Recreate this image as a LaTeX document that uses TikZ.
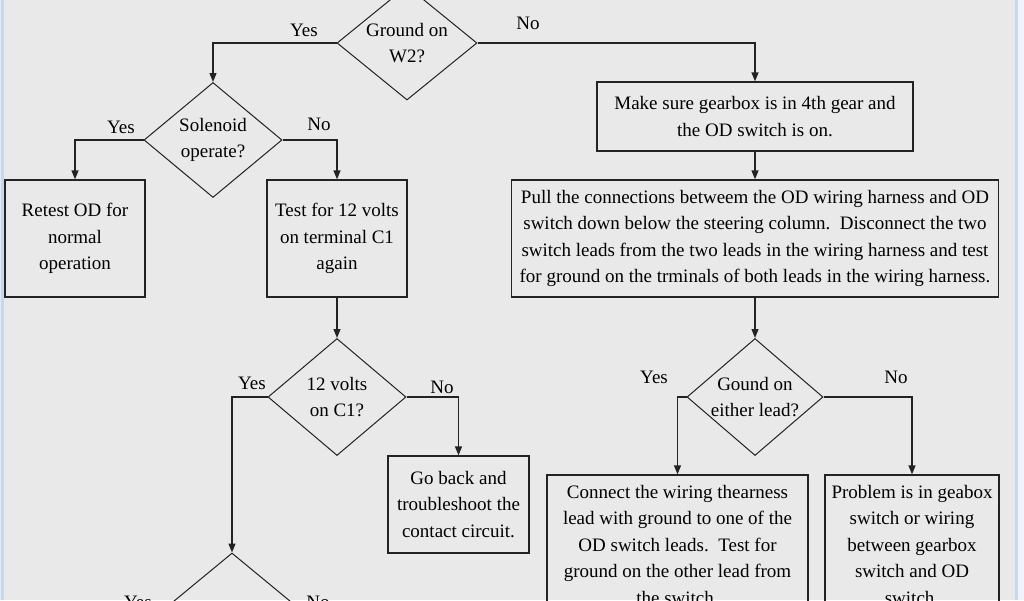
\documentclass[tikz,border=0pt]{standalone}
\usepackage{fontspec}
\setmainfont{Liberation Serif}
\usetikzlibrary{shapes.geometric,arrows.meta}
\definecolor{bg}{RGB}{233,233,233}
\definecolor{ln}{RGB}{35,35,35}
\definecolor{edgeblue}{RGB}{196,216,238}
\definecolor{edgelight}{RGB}{240,244,248}
\begin{document}
\begin{tikzpicture}[x=1pt,y=-1pt,
  txt/.style={font=\fontsize{19}{26.5}\selectfont, align=center, inner sep=0pt, text=black},
  dia/.style={draw=ln, line width=1pt, diamond, inner sep=0pt},
  box/.style={draw=ln, line width=1.3pt, rectangle, inner sep=0pt},
  arr/.style={draw=ln, line width=1.3pt, -{Triangle[length=9pt,width=7pt]}},
  lbl/.style={font=\fontsize{19}{23}\selectfont, inner sep=0pt, text=black}]
\useasboundingbox (0,0) rectangle (1024,600);
\clip (0,0) rectangle (1024,600);
\fill[bg] (0,0) rectangle (1024,600);
\fill[edgeblue] (1,0) rectangle (4,600);
\fill[edgeblue] (1015,0) rectangle (1018,600);
\fill[edgelight] (1018,0) rectangle (1024,600);

% decisions
\node[dia, minimum width=140pt, minimum height=114pt] (d0) at (407,43) {};
\node[txt] at (d0) {Ground on\\W2?};
\node[dia, minimum width=138pt, minimum height=115pt] (d1) at (213,140) {};
\node[txt] at (d1) {Solenoid\\operate?};
\node[dia, minimum width=138pt, minimum height=117pt] (d2) at (337,397) {};
\node[txt] at (d2) {12 volts\\on C1?};
\node[dia, minimum width=136pt, minimum height=117pt] (d3) at (755,397) {};
\node[txt] at (d3) {Gound on\\either lead?};
\node[dia, minimum width=138pt, minimum height=114pt] (d4) at (232,610) {};

% boxes
\node[box, minimum width=140pt, minimum height=117pt] (retest) at (75,238.5) {};
\node[txt] at (retest) {Retest OD for\\normal\\operation};
\node[box, minimum width=140pt, minimum height=117pt] (test) at (337,238.5) {};
\node[txt] at (test) {Test for 12 volts\\on terminal C1\\again};
\node[box, minimum width=316pt, minimum height=69pt] (make) at (755,116.5) {};
\node[txt] at (make) {Make sure gearbox is in 4th gear and\\the OD switch is on.};
\node[box, minimum width=487pt, minimum height=117pt] (pull) at (755,238.5) {};
\node[txt] at (pull) {Pull the connections betweem the OD wiring harness and OD\\switch down below the steering column.\ \ Disconnect the two\\switch leads from the two leads in the wiring harness and test\\for ground on the trminals of both leads in the wiring harness.};
\node[box, minimum width=141pt, minimum height=97pt] (goback) at (458.5,504.5) {};
\node[txt] at (goback) {Go back and\\troubleshoot the\\contact circuit.};
\node[box, minimum width=261pt, minimum height=140pt] (connect) at (677.5,545) {};
\node[txt] at (connect) {Connect the wiring thearness\\lead with ground to one of the\\OD switch leads.\ \ Test for\\ground on the other lead from\\the switch.};
\node[box, minimum width=174pt, minimum height=140pt] (problem) at (912,545) {};
\node[txt] at (problem) {Problem is in geabox\\switch or wiring\\between gearbox\\switch and OD\\switch.};

% connectors
\draw[arr] (d0.west) -| (d1.north);
\draw[arr] (d0.east) -| (make.north);
\draw[arr] (d1.west) -| (retest.north);
\draw[arr] (d1.east) -| (test.north);
\draw[arr] (test.south) -- (d2.north);
\draw[arr] (d2.west) -| (d4.north);
\draw[arr] (d2.east) -| (goback.north);
\draw[arr] (make.south) -- (pull.north);
\draw[arr] (pull.south) -- (d3.north);
\draw[arr] (d3.west) -| (connect.north);
\draw[arr] (d3.east) -| (problem.north);

% labels
\node[lbl] (y0) at (304,30) {Yes};
\node[lbl] (n0) at (528,23) {No};
\node[lbl] (y1) at (121,127) {Yes};
\node[lbl] (n1) at (319,124) {No};
\node[lbl] (y2) at (252,383) {Yes};
\node[lbl] (n2) at (442,387) {No};
\node[lbl] (y3) at (654,377) {Yes};
\node[lbl] (n3) at (896,377) {No};
\node[lbl] (y4) at (138,602) {Yes};
\node[lbl] (n4) at (318,602) {No};
\end{tikzpicture}
\end{document}
